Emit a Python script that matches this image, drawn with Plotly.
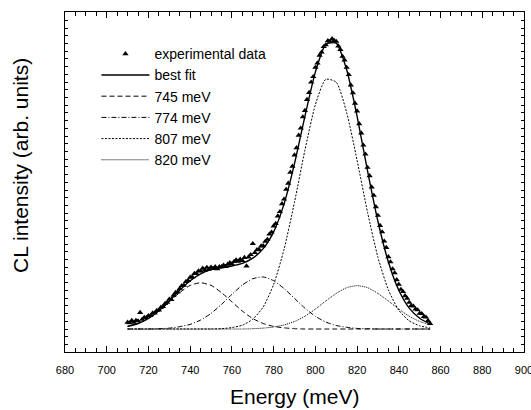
import plotly.graph_objects as go

# ---- data ----
energy_fit = [710, 715, 720, 725, 730, 735, 740, 745, 750, 755, 760, 765, 770, 775, 780,
              785, 790, 795, 800, 805, 810, 815, 820, 825, 830, 835, 840, 845, 850, 855]

peak_745 = [0.009, 0.019, 0.036, 0.062, 0.094, 0.126, 0.151, 0.160, 0.151, 0.126, 0.094, 0.062,
            0.036, 0.019, 0.009, 0.004, 0.001, 0.000, 0.000, 0.000, 0.000, 0.000, 0.000, 0.000,
            0.000, 0.000, 0.000, 0.000, 0.000, 0.000]
peak_774 = [0.000, 0.000, 0.000, 0.001, 0.003, 0.008, 0.016, 0.031, 0.054, 0.085, 0.120, 0.152,
            0.174, 0.180, 0.167, 0.140, 0.106, 0.072, 0.044, 0.024, 0.012, 0.006, 0.002, 0.001,
            0.000, 0.000, 0.000, 0.000, 0.000, 0.000]
peak_807 = [0.000, 0.000, 0.000, 0.000, 0.000, 0.000, 0.000, 0.000, 0.000, 0.001, 0.005, 0.013,
            0.034, 0.076, 0.154, 0.276, 0.439, 0.619, 0.776, 0.864, 0.854, 0.749, 0.584, 0.404,
            0.248, 0.135, 0.065, 0.028, 0.011, 0.004]
peak_820 = [0.000, 0.000, 0.000, 0.000, 0.000, 0.000, 0.000, 0.000, 0.000, 0.000, 0.000, 0.000,
            0.001, 0.003, 0.007, 0.014, 0.026, 0.044, 0.069, 0.097, 0.123, 0.143, 0.150, 0.143,
            0.123, 0.097, 0.069, 0.044, 0.026, 0.014]
best_fit = [0.009, 0.019, 0.037, 0.063, 0.097, 0.134, 0.167, 0.191, 0.206, 0.212, 0.218, 0.227,
            0.245, 0.278, 0.336, 0.433, 0.572, 0.736, 0.889, 0.985, 0.989, 0.897, 0.736, 0.547,
            0.372, 0.232, 0.134, 0.072, 0.037, 0.017]

energy_exp = list(range(710, 856))
cl_exp = [
    0.023, 0.021, 0.029, 0.023, 0.029, 0.028, 0.057, 0.033, 0.040, 0.039,
    0.046, 0.046, 0.055, 0.055, 0.064, 0.065, 0.075, 0.077, 0.088, 0.092,
    0.103, 0.102, 0.116, 0.126, 0.128, 0.140, 0.150, 0.151, 0.164, 0.167,
    0.179, 0.180, 0.192, 0.192, 0.201, 0.200, 0.210, 0.204, 0.213, 0.207,
    0.214, 0.209, 0.215, 0.208, 0.215, 0.215, 0.221, 0.216, 0.224, 0.229,
    0.225, 0.233, 0.239, 0.234, 0.241, 0.237, 0.247, 0.218, 0.249, 0.257,
    0.295, 0.264, 0.274, 0.275, 0.287, 0.288, 0.303, 0.310, 0.328, 0.335,
    0.356, 0.365, 0.391, 0.406, 0.433, 0.449, 0.483, 0.504, 0.542, 0.563,
    0.602, 0.627, 0.670, 0.695, 0.734, 0.756, 0.794, 0.818, 0.854, 0.873,
    0.905, 0.920, 0.947, 0.958, 0.977, 0.983, 0.997, 0.995, 1.004, 0.998,
    0.995, 0.979, 0.967, 0.943, 0.930, 0.905, 0.880, 0.844, 0.817, 0.781,
    0.754, 0.710, 0.678, 0.636, 0.605, 0.559, 0.530, 0.491, 0.462, 0.423,
    0.393, 0.358, 0.336, 0.304, 0.282, 0.250, 0.232, 0.208, 0.194, 0.170,
    0.154, 0.137, 0.129, 0.115, 0.106, 0.092, 0.081, 0.079, 0.069, 0.066,
    0.054, 0.053, 0.043, 0.041, 0.029, 0.019,
]

x_ticks = [680, 700, 720, 740, 760, 780, 800, 820, 840, 860, 880, 900]

FONT = "Arial, Liberation Sans, Helvetica, sans-serif"

fig = go.Figure()
fig.add_trace(go.Scatter(x=energy_exp, y=cl_exp, mode="markers", name="experimental data",
                         marker=dict(symbol="triangle-up", size=5.5, color="black")))
fig.add_trace(go.Scatter(x=energy_fit, y=best_fit, mode="lines", name="best fit",
                         line=dict(color="black", width=1.4, shape="spline", smoothing=0.6)))
fig.add_trace(go.Scatter(x=energy_fit, y=peak_745, mode="lines", name="745 meV",
                         line=dict(color="black", width=1, dash="5px,3px", shape="spline", smoothing=0.6)))
fig.add_trace(go.Scatter(x=energy_fit, y=peak_774, mode="lines", name="774 meV",
                         line=dict(color="black", width=1, dash="5px,2px,1px,2px", shape="spline", smoothing=0.6)))
fig.add_trace(go.Scatter(x=energy_fit, y=peak_807, mode="lines", name="807 meV",
                         line=dict(color="black", width=1, dash="2px,1.5px", shape="spline", smoothing=0.6)))
fig.add_trace(go.Scatter(x=energy_fit, y=peak_820, mode="lines", name="820 meV",
                         line=dict(color="black", width=1, dash="1px,1px", shape="spline", smoothing=0.6)))

fig.update_layout(
    width=531, height=410,
    margin=dict(l=65, r=7, t=12, b=58, autoexpand=False),
    paper_bgcolor="white", plot_bgcolor="white",
    font=dict(family=FONT, color="black"),
    showlegend=True,
    legend=dict(x=0.0685, y=0.923, xanchor="left", yanchor="top", bgcolor="rgba(0,0,0,0)",
                font=dict(size=14, family=FONT), tracegroupgap=0, itemwidth=48),
    annotations=[
        dict(text="Energy (meV)", x=0.5, y=-0.132, xref="paper", yref="paper",
             xanchor="center", yanchor="middle", showarrow=False, font=dict(size=21, family=FONT)),
        dict(text="CL intensity (arb. units)", x=-0.096, y=0.55, xref="paper", yref="paper",
             xanchor="center", yanchor="middle", textangle=-90, showarrow=False,
             font=dict(size=21, family=FONT)),
    ],
)
fig.update_xaxes(range=[680, 900], tickvals=x_ticks, ticktext=[str(v) for v in x_ticks],
                 ticks="inside", ticklen=6, tickwidth=1, tickcolor="black",
                 minor=dict(dtick=5, ticks="inside", ticklen=4, tickcolor="black"),
                 showline=True, linecolor="black", linewidth=1, mirror="allticks",
                 showgrid=False, zeroline=False, tickfont=dict(size=11, family=FONT, color="black"),
                 ticklabelstandoff=8, ticklabeloverflow="allow", automargin=False)
fig.update_yaxes(range=[-0.0796, 1.0969], dtick=0.0267, tick0=0,
                 ticks="inside", ticklen=3, tickwidth=1, tickcolor="black",
                 showticklabels=False, automargin=False,
                 showline=True, linecolor="black", linewidth=1, mirror="allticks",
                 showgrid=False, zeroline=False)

fig.write_html("out.html", config={"displayModeBar": False},
               post_script="document.body.style.margin='0';")
